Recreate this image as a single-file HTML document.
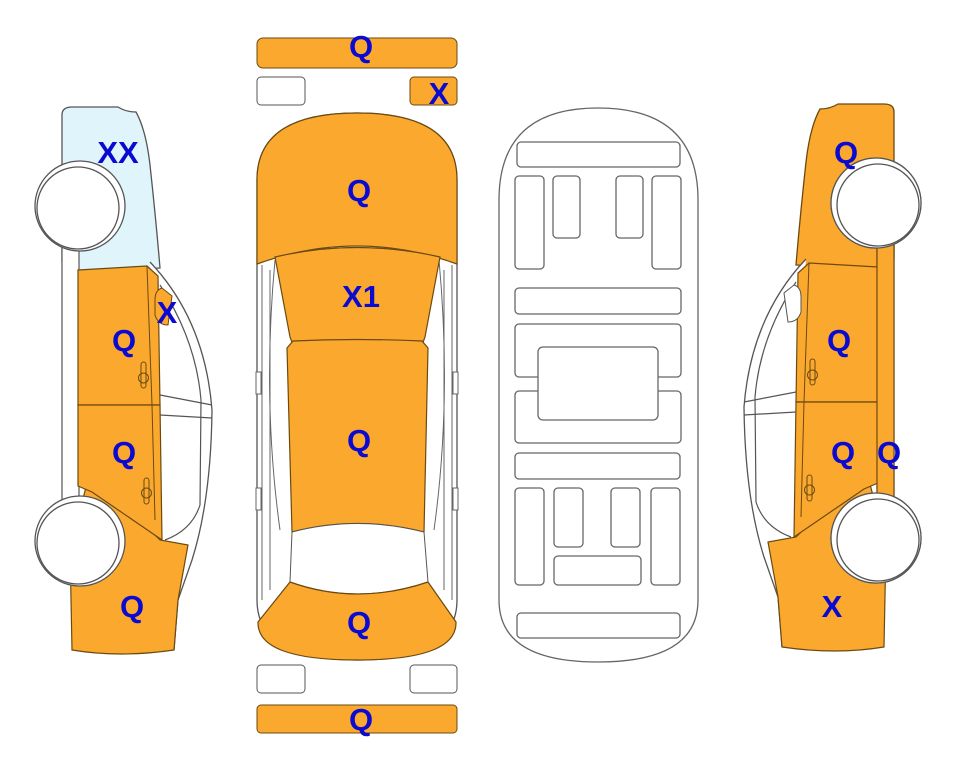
<!DOCTYPE html>
<html><head><meta charset="utf-8"><style>
html,body{margin:0;padding:0;background:#fff;}
svg{display:block;}
text{font-family:"Liberation Sans",Arial,sans-serif;font-weight:bold;font-size:31px;fill:#0a0ad0;text-anchor:middle;}
</style></head><body>
<svg width="963" height="768" viewBox="0 0 963 768" xmlns="http://www.w3.org/2000/svg">
<defs>
<g id="side">
  <path d="M150,262 Q205,320 212,410 Q211,500 192,560 L178,600 L174,650" fill="#fff" stroke="#555" stroke-width="1.3"/>
  <path d="M160,285 Q196,340 201,400 L200,505 Q192,530 165,540" fill="none" stroke="#555" stroke-width="1.2"/>
  <path d="M160,395 L212,405 M160,415 L212,418" stroke="#555" stroke-width="1.2" fill="none"/>
  <rect x="62" y="245" width="17" height="255" fill="#fff" stroke="#555" stroke-width="1.2"/>
  <path d="M70,548 L90,472 L160,540 L188,545 L178,600 L174,650 Q120,658 72,650 Z" fill="#FBA82F" stroke="#6b4a10" stroke-width="1.2"/>
  <path d="M78,270 L147,266 L158,276 L160,405 L78,405 Z" fill="#FBA82F" stroke="#6b4a10" stroke-width="1.2"/>
  <path d="M78,405 L160,405 L162,540 L92,492 L78,486 Z" fill="#FBA82F" stroke="#6b4a10" stroke-width="1.2"/>
  <path d="M147,266 L152,405 L155,520" stroke="#6b4a10" stroke-width="1" fill="none"/>
  <rect x="141" y="362" width="5" height="26" rx="2.5" fill="none" stroke="#6b4a10"/>
  <circle cx="143.5" cy="378" r="5" fill="none" stroke="#6b4a10"/>
  <rect x="144" y="478" width="5" height="26" rx="2.5" fill="none" stroke="#6b4a10"/>
  <circle cx="146.5" cy="493" r="5" fill="none" stroke="#6b4a10"/>
  <circle cx="80" cy="206" r="45" fill="#fff" stroke="#555" stroke-width="1.3"/>
  <circle cx="78" cy="208" r="41" fill="#fff" stroke="#555" stroke-width="1.3"/>
  <circle cx="80" cy="541" r="45" fill="#fff" stroke="#555" stroke-width="1.3"/>
  <circle cx="78" cy="543" r="41" fill="#fff" stroke="#555" stroke-width="1.3"/>
</g>
</defs>

<path d="M62,262 L62,115 Q62,107 72,107 L118,107 Q126,112 136,112 Q146,130 150,165 Q156,220 160,268 L78,272 Z" fill="#DFF5FB" stroke="#555" stroke-width="1.3"/>
<use href="#side"/>
<path d="M155,300 Q155,290 162,288 L172,296 L168,325 Q158,325 155,315 Z" fill="#FBA82F" stroke="#6b4a10"/>

<g transform="translate(956,-3) scale(-1,1)">
  <path d="M62,262 L62,115 Q62,107 72,107 L118,107 Q126,112 136,112 Q146,130 150,165 Q156,220 160,268 L78,272 Z" fill="#FBA82F" stroke="#6b4a10" stroke-width="1.3"/>
  <use href="#side"/>
  <rect x="62" y="245" width="17" height="255" fill="#FBA82F" stroke="#6b4a10" stroke-width="1.2"/>
  <circle cx="80" cy="206" r="45" fill="#fff" stroke="#555" stroke-width="1.3"/>
  <circle cx="78" cy="208" r="41" fill="#fff" stroke="#555" stroke-width="1.3"/>
  <circle cx="80" cy="541" r="45" fill="#fff" stroke="#555" stroke-width="1.3"/>
  <circle cx="78" cy="543" r="41" fill="#fff" stroke="#555" stroke-width="1.3"/>
  <path d="M155,300 Q155,290 162,288 L172,296 L168,325 Q158,325 155,315 Z" fill="#fff" stroke="#555"/>
</g>

<rect x="257" y="38" width="200" height="30" rx="6" fill="#FBA82F" stroke="#6b4a10"/>
<rect x="257" y="77" width="48" height="28" rx="4" fill="#fff" stroke="#555"/>
<rect x="410" y="77" width="47" height="28" rx="4" fill="#FBA82F" stroke="#6b4a10"/>
<rect x="257" y="665" width="48" height="28" rx="4" fill="#fff" stroke="#555"/>
<rect x="410" y="665" width="47" height="28" rx="4" fill="#fff" stroke="#555"/>
<rect x="257" y="705" width="200" height="28" rx="4" fill="#FBA82F" stroke="#6b4a10"/>

<path d="M257,262 L257,180 Q257,113 357,113 Q457,113 457,180 L457,600 Q457,660 357,660 Q257,660 257,600 Z" fill="#fff" stroke="#555" stroke-width="1.3"/>
<path d="M262,265 L262,600 M452,265 L452,600 M270,270 L270,590 M444,270 L444,590" stroke="#666" fill="none"/>
<path d="M275,260 Q262,400 280,530 M439,260 Q452,400 434,530" stroke="#666" fill="none"/>
<rect x="256" y="372" width="5" height="22" fill="#fff" stroke="#666"/>
<rect x="256" y="488" width="5" height="22" fill="#fff" stroke="#666"/>
<rect x="453" y="372" width="5" height="22" fill="#fff" stroke="#666"/>
<rect x="453" y="488" width="5" height="22" fill="#fff" stroke="#666"/>
<path d="M257,264 L257,180 Q257,113 357,113 Q457,113 457,180 L457,264 Q357,228 257,264 Z" fill="#FBA82F" stroke="#6b4a10" stroke-width="1.2"/>
<path d="M275,257 Q357,238 440,257 L425,337 L422,345 L293,345 L290,337 Z" fill="#FBA82F" stroke="#6b4a10" stroke-width="1.2"/>
<path d="M287,348 L293,341 Q357,338 422,341 L428,348 L424,532 Q357,515 292,532 Z" fill="#FBA82F" stroke="#6b4a10" stroke-width="1.2"/>
<path d="M292,532 Q357,515 424,532 L428,582 Q357,606 290,582 Z" fill="#fff" stroke="#555"/>
<path d="M258,622 L290,582 Q357,606 428,582 L456,622 Q457,660 357,660 Q257,660 258,622 Z" fill="#FBA82F" stroke="#6b4a10" stroke-width="1.2"/>

<path d="M499,200 Q499,108 598,108 Q698,108 698,200 L698,600 Q698,662 598,662 Q499,662 499,600 Z" fill="#fff" stroke="#666" stroke-width="1.3"/>
<g fill="#fff" stroke="#666" stroke-width="1.3">
<rect x="517" y="142" width="163" height="25" rx="4"/>
<rect x="515" y="176" width="29" height="93" rx="4"/>
<rect x="553" y="176" width="27" height="62" rx="4"/>
<rect x="616" y="176" width="27" height="62" rx="4"/>
<rect x="652" y="176" width="29" height="93" rx="4"/>
<rect x="515" y="288" width="166" height="26" rx="4"/>
<rect x="515" y="324" width="166" height="53" rx="4"/>
<rect x="515" y="391" width="166" height="52" rx="4"/>
<rect x="538" y="347" width="120" height="73" rx="5"/>
<rect x="515" y="453" width="165" height="26" rx="4"/>
<rect x="515" y="488" width="29" height="97" rx="4"/>
<rect x="554" y="488" width="29" height="59" rx="4"/>
<rect x="611" y="488" width="29" height="59" rx="4"/>
<rect x="651" y="488" width="29" height="97" rx="4"/>
<rect x="554" y="556" width="87" height="29" rx="4"/>
<rect x="517" y="613" width="163" height="25" rx="4"/>
</g>

<text x="361" y="57">Q</text>
<text x="439" y="104">X</text>
<text x="359" y="201">Q</text>
<text x="361" y="307">X1</text>
<text x="359" y="451">Q</text>
<text x="359" y="633">Q</text>
<text x="361" y="730">Q</text>
<text x="118" y="163">XX</text>
<text x="167" y="323">X</text>
<text x="124" y="351">Q</text>
<text x="124" y="463">Q</text>
<text x="132" y="617">Q</text>
<text x="846" y="163">Q</text>
<text x="839" y="351">Q</text>
<text x="843" y="463">Q</text>
<text x="889" y="463">Q</text>
<text x="832" y="617">X</text>
</svg>
</body></html>
